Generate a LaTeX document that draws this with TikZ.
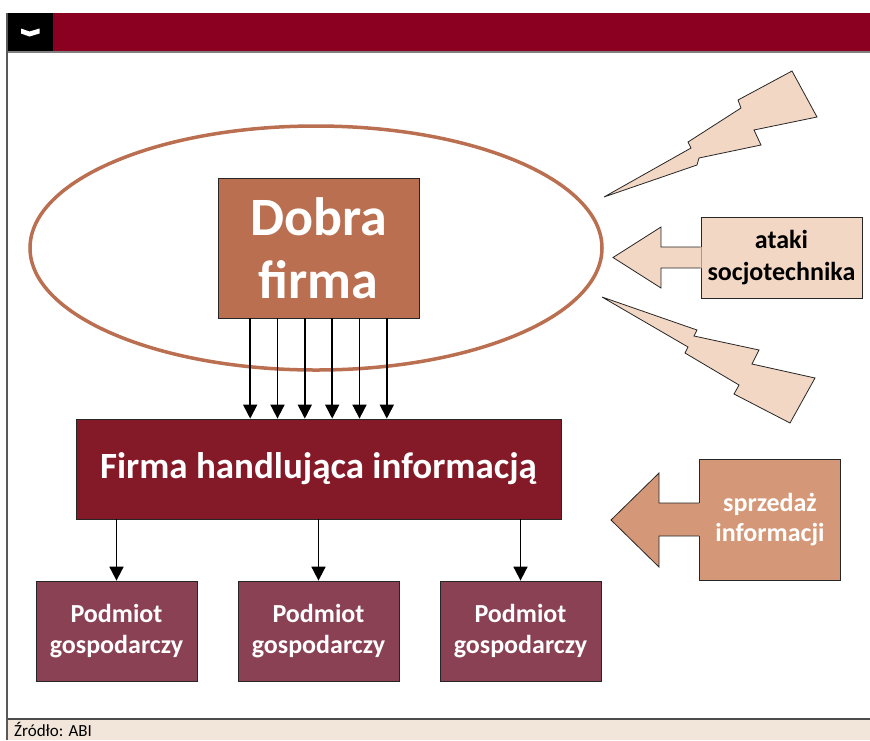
\documentclass[tikz,border=0pt]{standalone}
\usepackage{fontspec}
\setmainfont{Carlito}
\usetikzlibrary{arrows.meta,shapes.geometric}

\definecolor{barred}{RGB}{139,0,32}
\definecolor{brick}{RGB}{186,111,81}
\definecolor{wine}{RGB}{132,26,40}
\definecolor{plum}{RGB}{138,65,84}
\definecolor{peach}{RGB}{242,215,196}
\definecolor{salmon}{RGB}{212,152,120}
\definecolor{sand}{RGB}{242,229,218}

\tikzset{
  box/.style={draw=black!85, line width=0.8pt, align=center, text=white,
    inner sep=0pt},
  down/.style={-{Triangle[length=14pt,width=14pt]}, line width=1.8pt},
  outl/.style={draw=black!85, line width=0.8pt, line join=miter},
}

\begin{document}
\begin{tikzpicture}[x=1pt,y=-1pt]
        \useasboundingbox (0,0) rectangle (870,740);

        % Frame
        \fill[barred] (7,13) rectangle (870,52);
        \fill[black] (7,13) rectangle (53,52);
        \fill[white] (21,28.5) -- (29.5,31.5) -- (39.5,28.5) -- (39.5,33.5)
            -- (29.5,36.5) -- (21,33.5) -- cycle;
        \draw[gray, line width=1.2pt] (7,52) -- (870,52);
        \fill[sand] (7,719) rectangle (870,740);
        \draw[black!70, line width=1.2pt] (7,719) -- (870,719);
        \draw[black!65, line width=1.2pt] (7,13) -- (7,740);
        \node[anchor=base west, inner sep=0pt, font=\fontsize{17}{20}\selectfont]
            (zrodlo) at (14,736) {Źródło: ABI};

        % Ellipse
        \node[ellipse, draw=brick, line width=3.5pt, minimum width=572pt,
            minimum height=244pt] (strefa) at (316,248) {};

        % Boxes
        \node[box, fill=brick, minimum width=201pt, minimum height=140pt,
            font=\fontsize{54}{63}\selectfont\bfseries] (dobra) at (318.5,248) {Dobra\\firma};
        \node[box, fill=wine, minimum width=485pt, minimum height=100pt,
            font=\fontsize{37}{40}\selectfont\bfseries] (handel) at (318.5,469) {Firma handlująca informacją};
        \node[box, fill=plum, minimum width=161pt, minimum height=100pt,
            font=\fontsize{26}{31}\selectfont\bfseries] (pod1) at (116.5,631) {Podmiot\\gospodarczy};
        \node[box, fill=plum, minimum width=161pt, minimum height=100pt,
            font=\fontsize{26}{31}\selectfont\bfseries] (pod2) at (318.5,631) {Podmiot\\gospodarczy};
        \node[box, fill=plum, minimum width=161pt, minimum height=100pt,
            font=\fontsize{26}{31}\selectfont\bfseries] (pod3) at (520.5,631) {Podmiot\\gospodarczy};

        % Arrows
        \foreach \dx in {-68.3,-41,-13.7,13.7,41,68.3}
            \draw[down] ([xshift=\dx pt]dobra.south) -- ([xshift=\dx pt]dobra.south |- handel.north);
        \foreach \p in {pod1,pod2,pod3}
            \draw[down] (handel.south -| \p.north) -- (\p.north);

        % Attacks
        \node[box, fill=peach, text=black, minimum width=161pt, minimum height=81pt,
            font=\fontsize{26}{32}\selectfont\bfseries] (ataki) at (781.5,257.5) {ataki\\socjotechnika};
        \fill[peach] ([xshift=1pt]ataki.west |- 0,247) -- (661,247) -- (661,227) -- (613,257.5)
            -- (661,288) -- (661,268) -- ([xshift=1pt]ataki.west |- 0,268) -- cycle;
        \draw[outl] (ataki.west |- 0,247) -- (661,247) -- (661,227) -- (613,257.5)
            -- (661,288) -- (661,268) -- (ataki.west |- 0,268);

        \node[box, fill=salmon, minimum width=141pt, minimum height=121pt,
            font=\fontsize{26}{30}\selectfont\bfseries] (sprzedaz) at (770,520) {sprzedaż\\informacji};
        \fill[salmon] ([xshift=1pt]sprzedaz.west |- 0,503) -- (659,503) -- (659,473) -- (611,520)
            -- (659,567) -- (659,536) -- ([xshift=1pt]sprzedaz.west |- 0,536) -- cycle;
        \draw[outl] (sprzedaz.west |- 0,503) -- (659,503) -- (659,473) -- (611,520)
            -- (659,567) -- (659,536) -- (sprzedaz.west |- 0,536);

        % Lightning
        \filldraw[outl, fill=peach] (604,197) -- (691,148) -- (688,142) -- (741,108) -- (738,100)
            -- (792,71) -- (817,117) -- (754,130) -- (761,145) -- (699,158) -- (697,165) -- cycle;
        \filldraw[outl, fill=peach] (602,297) -- (697,330) -- (694,336) -- (759,350) -- (752,364)
            -- (815,378) -- (790,423) -- (734,394) -- (739,385) -- (685,353) -- (688,347) -- cycle;
\end{tikzpicture}
\end{document}
